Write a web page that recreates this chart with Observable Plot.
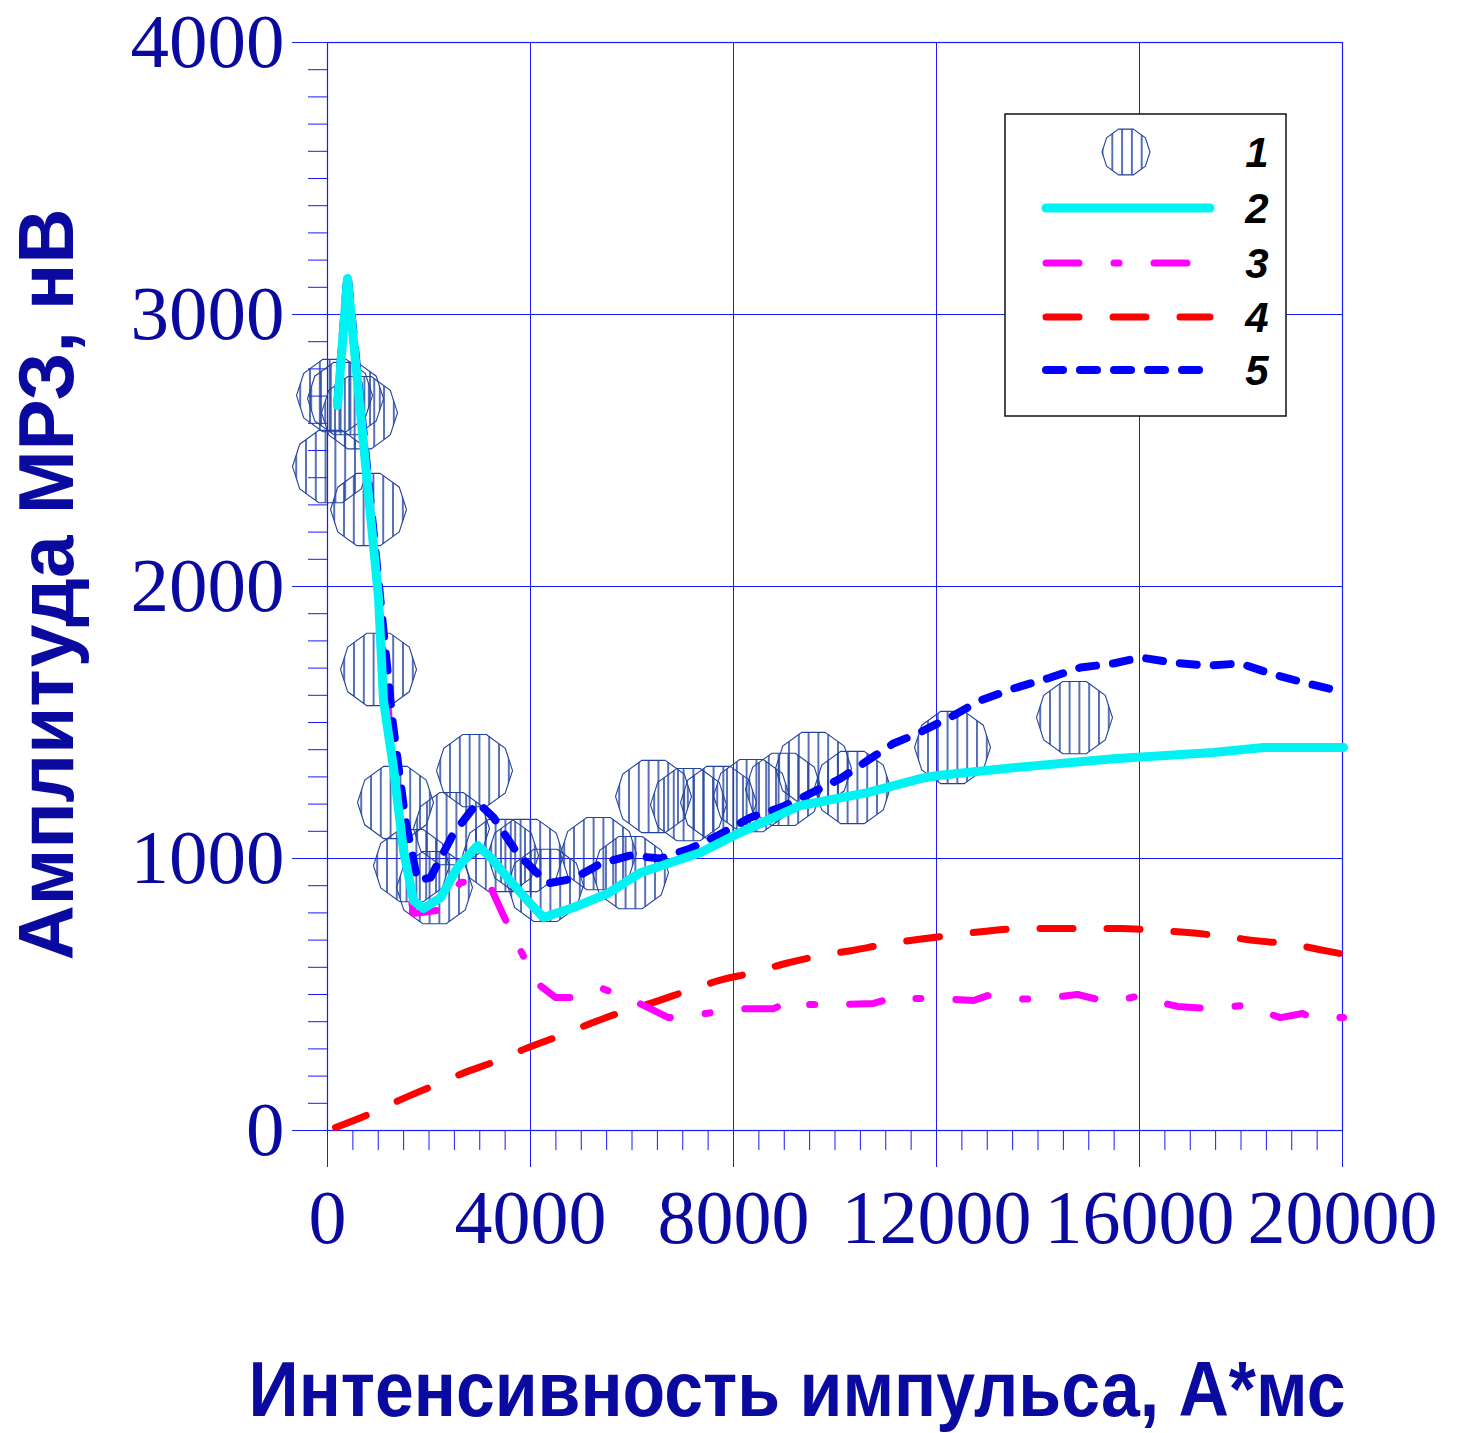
<!DOCTYPE html>
<html>
<head>
<meta charset="utf-8">
<script src="https://cdn.jsdelivr.net/npm/d3@7"></script>
<script src="https://cdn.jsdelivr.net/npm/@observablehq/plot@0.6"></script>
<style>
  html, body { margin: 0; padding: 0; background: #fff; }
  svg { display: block; }
</style>
</head>
<body>
<div id="chart"></div>
<script>
// ---- data ----
const xTitle = "Интенсивность импульса, А*мс";
const yTitle = "Амплитуда МРЗ, нВ";
const xMajor = [0, 4000, 8000, 12000, 16000, 20000];
const yMajor = [0, 1000, 2000, 3000, 4000];
const xMinor = d3.range(0, 20001, 500).filter(v => v % 4000 !== 0);
const yMinor = d3.range(0, 4001, 100).filter(v => v % 1000 !== 0);
const legendLabels = ["1", "2", "3", "4", "5"];

// series 1: measured points
const pointsX = [138, 355, 631, 59, 808, 1005, 1340, 2897, 1655, 2108, 2443, 3409, 3901, 4296, 5340, 5970, 6424, 7113, 7704, 8355, 8985, 9576, 10345, 12315, 14719];
const pointsY = [2702, 2691, 2639, 2441, 2283, 1695, 1206, 1323, 974, 893, 1110, 1011, 1011, 901, 1018, 948, 1228, 1198, 1206, 1231, 1254, 1331, 1261, 1408, 1518];

// series 2: cyan solid
const s2X = [197, 394, 1005, 1103, 1300, 1498, 1695, 1892, 2227, 2562, 2956, 3212, 3547, 3941, 4256, 4847, 5517, 6167, 7350, 8000, 9320, 10640, 11684, 12020, 13517, 15488, 17458, 18443, 20020];
const s2Y = [2665, 3132, 1959, 1581, 1334, 1029, 845, 816, 856, 967, 1048, 1004, 930, 845, 783, 820, 871, 948, 1022, 1084, 1195, 1242, 1294, 1305, 1334, 1367, 1390, 1408, 1408];

// series 3: magenta dash-dot
const s3X = [197, 394, 1005, 1300, 1498, 1695, 2167, 2621, 3153, 3468, 3803, 4138, 4493, 4847, 5419, 6108, 6719, 7093, 7448, 8079, 8788, 9024, 9221, 9419, 10069, 10758, 11034, 11192, 11428, 12079, 12729, 13005, 13419, 14108, 14778, 15172, 15468, 16020, 16158, 16749, 17399, 18049, 18778, 19212, 19409, 20020];
const s3Y = [2665, 3132, 1959, 1334, 1029, 798, 809, 912, 919, 790, 662, 540, 489, 489, 522, 471, 415, 423, 430, 448, 448, 467, 448, 463, 463, 467, 482, 471, 485, 485, 478, 496, 482, 485, 500, 482, 474, 496, 482, 456, 448, 460, 415, 430, 415, 415];

// series 4: red dashed
const s4X = [158, 847, 1399, 2089, 2660, 3350, 3901, 4591, 5182, 5773, 6424, 7113, 7704, 8394, 9024, 9714, 10345, 11054, 11625, 12374, 12926, 13714, 14305, 15034, 15626, 16374, 16946, 17694, 18285, 19034, 19625, 20059];
const s4Y = [11, 62, 110, 165, 210, 257, 301, 349, 393, 434, 471, 515, 551, 581, 614, 643, 662, 687, 702, 720, 732, 743, 743, 743, 743, 735, 728, 713, 698, 684, 662, 647];

// series 5: blue short dash
const s5X = [197, 394, 1044, 1281, 1537, 1773, 2030, 2483, 2956, 3271, 3744, 4335, 4847, 5379, 5970, 6561, 7153, 7685, 8335, 8926, 9517, 10108, 10640, 11152, 11625, 12335, 12867, 13517, 14187, 14837, 15488, 16020, 16670, 17340, 17990, 18581, 19232, 20059];
const s5Y = [2680, 3150, 1948, 1507, 1140, 919, 930, 1092, 1206, 1151, 1018, 908, 926, 981, 1011, 1000, 1037, 1084, 1151, 1187, 1239, 1294, 1360, 1423, 1459, 1526, 1581, 1625, 1662, 1702, 1717, 1739, 1720, 1709, 1717, 1680, 1647, 1610];

// ---- styles ----
const gridColor = "#1a1aff";
const textColor = "#0a0aa0";
const circleColor = "#22429f";
const serif = "'Liberation Serif', 'Times New Roman', serif";
const sans = "'Liberation Sans', Arial, sans-serif";
const seriesStyle = [
  null,
  {stroke: "#00f2f2", strokeWidth: 9, dash: null, curve: "linear"},
  {stroke: "#ff00ff", strokeWidth: 7, dash: "33 35 5 35", curve: "linear"},
  {stroke: "#ff0000", strokeWidth: 7, dash: "33 34", curve: "monotone-x"},
  {stroke: "#0000ff", strokeWidth: 8, dash: "17 17", curve: "linear"}
];

// decagon symbol (flat top)
const decagon = {
  draw(context, size) {
    const r = Math.sqrt(size / Math.PI);
    for (let k = 0; k < 10; k++) {
      const a = -Math.PI / 2 + Math.PI / 10 + k * 2 * Math.PI / 10;
      const px = r * Math.cos(a), py = r * Math.sin(a);
      if (k === 0) context.moveTo(px, py); else context.lineTo(px, py);
    }
    context.closePath();
  }
};

function lineMark(X, Y, st) {
  return Plot.line(d3.zip(X, Y), {
    stroke: st.stroke, strokeWidth: st.strokeWidth,
    strokeDasharray: st.dash || undefined, curve: st.curve,
    strokeLinecap: "round", strokeLinejoin: "round"
  });
}

const chart = Plot.plot({
  width: 1460, height: 1433,
  marginLeft: 327, marginRight: 118, marginTop: 42, marginBottom: 303,
  x: {domain: [0, 20000], label: null},
  y: {domain: [0, 4000], label: null},
  style: {background: "white", overflow: "visible"},
  marks: [
    Plot.gridX(xMajor, {stroke: gridColor, strokeOpacity: 1, strokeWidth: 1}),
    Plot.gridY(yMajor, {stroke: gridColor, strokeOpacity: 1, strokeWidth: 1}),
    Plot.axisX(xMinor, {tickSize: 20, tickFormat: () => "", stroke: gridColor, strokeWidth: 1}),
    Plot.axisY(yMinor, {tickSize: 19, tickFormat: () => "", stroke: gridColor, strokeWidth: 1}),
    Plot.axisX(xMajor, {tickSize: 37, tickPadding: 22, tickFormat: d => String(d), stroke: gridColor, fill: textColor, fontSize: 76, fontFamily: serif}),
    Plot.axisY(yMajor, {tickSize: 35, tickPadding: 8, tickFormat: d => String(d), stroke: gridColor, fill: textColor, fontSize: 77, fontFamily: serif}),
    Plot.frame({stroke: gridColor, strokeWidth: 1.2}),
    Plot.dot(d3.zip(pointsX, pointsY), {r: 38, symbol: decagon, fill: "url(#hatch)", stroke: circleColor, strokeWidth: 1.1}),
    lineMark(s4X, s4Y, seriesStyle[3]),
    lineMark(s3X, s3Y, seriesStyle[2]),
    lineMark(s5X, s5Y, seriesStyle[4]),
    lineMark(s2X, s2Y, seriesStyle[1]),
    Plot.text([yTitle], {className: "ytitle", frameAnchor: "left", text: d => d, rotate: -90, dx: -255, dy: -2, textAnchor: "middle", lineAnchor: "bottom", fontSize: 77, fontWeight: "bold", fill: textColor, fontFamily: sans}),
    Plot.text([xTitle], {className: "xtitle", frameAnchor: "bottom", text: d => d, dx: -38, dy: 285, textAnchor: "middle", lineAnchor: "bottom", fontSize: 77, fontWeight: "bold", fill: textColor, fontFamily: sans})
  ]
});

const svg = d3.select(chart);
// fit title widths to the reference
svg.selectAll(".ytitle text").attr("textLength", 752).attr("lengthAdjust", "spacingAndGlyphs");
svg.selectAll(".xtitle text").attr("textLength", 1097).attr("lengthAdjust", "spacingAndGlyphs");

const defs = svg.insert("defs", ":first-child");
const pat = defs.append("pattern").attr("id", "hatch").attr("patternUnits", "userSpaceOnUse")
  .attr("width", 9.8).attr("height", 40);
pat.append("line").attr("x1", 4.9).attr("x2", 4.9).attr("y1", 0).attr("y2", 40)
  .attr("stroke", circleColor).attr("stroke-width", 1.5);

// legend box
const lg = svg.append("g");
lg.append("rect").attr("x", 1005).attr("y", 114).attr("width", 281).attr("height", 302)
  .attr("fill", "white").attr("stroke", "#111").attr("stroke-width", 1.5);
const rows = [152, 208, 263, 317, 370];
const r0 = 24;
const dec = d3.range(10).map(k => {
  const a = -Math.PI / 2 + Math.PI / 10 + k * 2 * Math.PI / 10;
  return [1126 + r0 * Math.cos(a), rows[0] + r0 * Math.sin(a)];
});
lg.append("path").attr("d", "M" + dec.map(p => p.join(",")).join("L") + "Z")
  .attr("fill", "url(#hatch)").attr("stroke", circleColor).attr("stroke-width", 1.1);
const legendEnds = [0, 1210, 1188, 1210, 1205];
for (let i = 1; i < 5; i++) {
  const st = seriesStyle[i];
  lg.append("line").attr("x1", 1046).attr("x2", legendEnds[i]).attr("y1", rows[i]).attr("y2", rows[i])
    .attr("stroke", st.stroke).attr("stroke-width", st.strokeWidth)
    .attr("stroke-linecap", "round").attr("stroke-dasharray", st.dash || null);
}
legendLabels.forEach((t, i) => {
  lg.append("text").attr("x", 1257).attr("y", rows[i]).attr("dy", "0.35em")
    .attr("text-anchor", "middle").attr("font-family", sans).attr("font-style", "italic")
    .attr("font-weight", "bold").attr("font-size", 42).attr("fill", "#000").text(t);
});

document.getElementById("chart").appendChild(chart);
</script>
</body>
</html>
